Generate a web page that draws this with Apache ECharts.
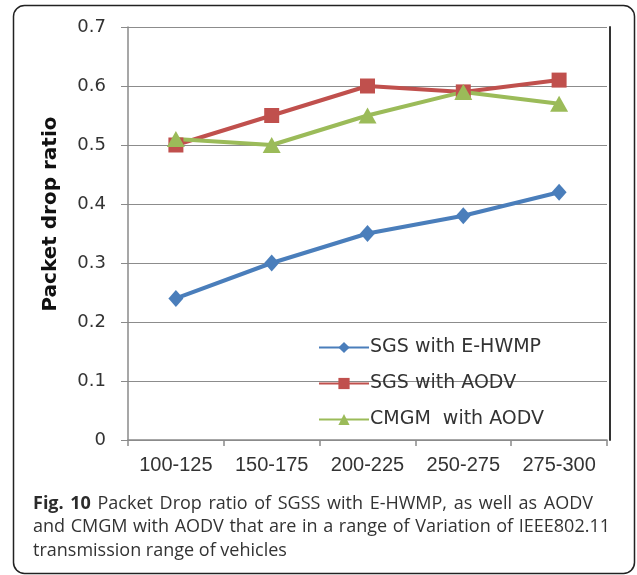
<!DOCTYPE html>
<html>
<head>
<meta charset="utf-8">
<script src="https://cdn.jsdelivr.net/npm/echarts@6/dist/echarts.min.js"></script>
<style>
html,body{margin:0;padding:0;background:#fff;}
#chart{width:637px;height:575px;}
</style>
</head>
<body>
<div id="chart"></div>
<script>
var categories = ['100-125', '150-175', '200-225', '250-275', '275-300'];
var seriesNames = ['SGS with E-HWMP', 'SGS with AODV', 'CMGM  with AODV'];
var sgsEhwmp = [0.24, 0.30, 0.35, 0.38, 0.42];
var sgsAodv = [0.50, 0.55, 0.60, 0.59, 0.61];
var cmgmAodv = [0.51, 0.50, 0.55, 0.59, 0.57];
var yTicks = [0, 0.1, 0.2, 0.3, 0.4, 0.5, 0.6, 0.7];
var yAxisTitle = 'Packet drop ratio';
var captionBold = 'Fig. 10';
var captionLines = [
  'Packet Drop ratio of SGSS with E-HWMP, as well as AODV',
  'and CMGM with AODV that are in a range of Variation of IEEE802.11',
  'transmission range of vehicles'
];

// --- caption built as rich text (line widths matched to the reference) ---
var capSize = 18, capFamily = '"Open Sans"', capLineWidths = [560, 577, 0];
var mctx = document.createElement('canvas').getContext('2d');
function tw(t, bold) { mctx.font = (bold ? 'bold ' : '') + capSize + 'px ' + capFamily; return mctx.measureText(t).width; }
var rich = {
  b: {fontFamily: 'Open Sans', fontSize: capSize, fontWeight: 'bold', color: '#2b2b2b', lineHeight: 23.5},
  n: {fontFamily: 'Open Sans', fontSize: capSize, color: '#333', lineHeight: 23.5}
};
var capParts = [];
captionLines.forEach(function (line, li) {
  var words = [];
  if (li === 0) { captionBold.split(' ').forEach(function (w) { words.push({t: w, b: true}); }); }
  line.split(' ').forEach(function (w) { words.push({t: w, b: false}); });
  var sum = 0;
  words.forEach(function (w) { sum += tw(w.t, w.b); });
  var target = capLineWidths[li];
  var sp = target ? Math.max(tw(' ', false), (target - sum) / (words.length - 1)) : tw(' ', false);
  rich['s' + li] = {fontFamily: 'Open Sans', fontSize: capSize, width: sp, lineHeight: 23.5};
  var s = words.map(function (w) { return '{' + (w.b ? 'b' : 'n') + '|' + w.t + '}'; }).join('{s' + li + '| }');
  capParts.push(s);
});

var chart = echarts.init(document.getElementById('chart'), null, {renderer: 'canvas'});
var gridTop = 27, gridBottom = 135, gridLeft = 128, gridRight = 30;

var option = {
  animation: false,
  backgroundColor: '#fff',
  title: {
    left: 33, top: 492, padding: 0,
    text: capParts.join('\n'),
    textStyle: {fontFamily: 'Open Sans', fontSize: capSize, fontWeight: 'normal', color: '#333', lineHeight: 23.5, rich: rich}
  },
  grid: {left: gridLeft, right: gridRight, top: gridTop, bottom: gridBottom, containLabel: false},
  legend: {
    orient: 'vertical', left: 318, top: 338, padding: 0,
    itemWidth: 50, itemHeight: 14, itemGap: 17,
    data: seriesNames,
    textStyle: {fontFamily: 'DejaVu Sans', fontSize: 19, color: '#333', lineHeight: 19, padding: [0, 0, 0, -4]}
  },
  xAxis: {
    type: 'category', data: categories, boundaryGap: true,
    axisLine: {show: true, lineStyle: {color: '#8a8a8a', width: 1.5}},
    axisTick: {show: true, length: 6, lineStyle: {color: '#8a8a8a', width: 1.5}},
    axisLabel: {fontFamily: 'Liberation Sans', fontSize: 20, color: '#333', margin: 15, interval: 0, hideOverlap: false},
    splitLine: {show: false}
  },
  yAxis: [{
    type: 'value', min: 0, max: 0.7, interval: 0.1,
    axisLine: {show: true, lineStyle: {color: '#8a8a8a', width: 1.5}},
    axisTick: {show: true, length: 7, lineStyle: {color: '#8a8a8a', width: 1}},
    axisLabel: {fontFamily: 'DejaVu Sans', fontSize: 18, color: '#333', margin: 22,
      formatter: function (v) { return yTicks.indexOf(Math.round(v * 10) / 10) >= 0 ? (v === 0 ? '0' : v.toFixed(1)) : ''; }},
    splitLine: {show: true, lineStyle: {color: '#8c8c8c', width: 1}}
  }, {
    type: 'value', min: 0, max: 0.7, interval: 0.1, position: 'right', offset: 3,
    axisLine: {show: true, lineStyle: {color: '#333', width: 2}},
    axisTick: {show: false}, axisLabel: {show: false}, splitLine: {show: false}
  }],
  series: [{
    name: seriesNames[0], type: 'line', data: sgsEhwmp,
    symbol: 'diamond', symbolSize: [15, 17],
    itemStyle: {color: '#4a7ebb'}, lineStyle: {color: '#4a7ebb', width: 4}
  }, {
    name: seriesNames[1], type: 'line', data: sgsAodv,
    symbol: 'rect', symbolSize: 15,
    itemStyle: {color: '#c0504d'}, lineStyle: {color: '#c0504d', width: 4}
  }, {
    name: seriesNames[2], type: 'line', data: cmgmAodv,
    symbol: 'triangle', symbolSize: [18, 16],
    itemStyle: {color: '#9bbb59'}, lineStyle: {color: '#9bbb59', width: 4}
  }],
  graphic: [{
    type: 'rect', silent: true, z: 100,
    shape: {x: 13.5, y: 5.5, width: 621, height: 568, r: 11},
    style: {fill: 'none', stroke: '#222', lineWidth: 1.5}
  }, {
    type: 'text', x: 51, y: 214, rotation: Math.PI / 2,
    style: {text: yAxisTitle, align: 'center', verticalAlign: 'middle',
      font: 'bold 20px "DejaVu Sans"', fill: '#111'}
  }]
};
chart.setOption(option);
</script>
</body>
</html>
